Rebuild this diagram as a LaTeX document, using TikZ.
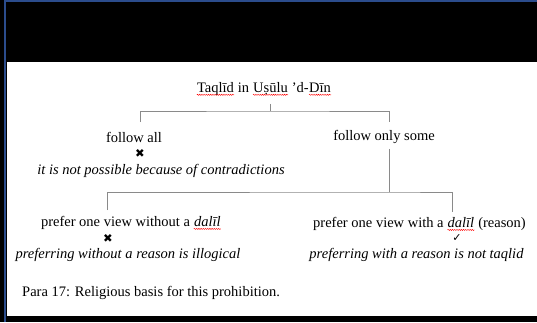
\documentclass[tikz,border=0pt]{standalone}
\usepackage{fontspec}
\setmainfont{Liberation Serif}
\newfontfamily\marksfont{DejaVu Sans}
\usetikzlibrary{positioning, decorations.pathmorphing}

\definecolor{frameblue}{HTML}{2B4C8C}
\definecolor{branchgray}{HTML}{8A8A8A}

% red wavy underline as left by a spell checker
\newcommand{\spelled}[1]{\tikz[baseline=(word.base)]{\node[inner sep=0pt] (word) {#1};
  \draw[red, line width=0.4pt, decorate, decoration={snake, amplitude=0.6pt, segment length=2.2pt}]
    ([yshift=-2.4pt]word.base west) -- ([yshift=-2.4pt]word.base east);}}

\begin{document}
\begin{tikzpicture}[
  x=1pt, y=-1pt,
  every node/.style={inner sep=0pt, font=\fontsize{14.5}{17}\selectfont},
  reason/.style={font=\fontsize{14.5}{17}\selectfont\itshape},
  verdict/.style={font=\marksfont\fontsize{11.5}{12}\selectfont},
  branch/.style={draw=branchgray, line width=0.9pt}
]
\useasboundingbox (0,0) rectangle (537,322);
\fill[black] (0,0) rectangle (537,322);
\fill[white] (7,62) rectangle (537,315.5);
\draw[frameblue, line width=1.6pt] (5,322) -- (5,1) -- (537,1);

\node (title) at (264,89) {\spelled{Taqlīd} in \spelled{Uṣūlu} ’d-\spelled{Dīn}};

\node (all) at (134,137) {follow all};
\node[verdict] (allmark) at (140,153) {✖};
\node[reason] (allwhy) at (161,171) {it is not possible because of contradictions};
\node (some) at (384,137) {follow only some};

\node (without) at (131,223) {prefer one view without a \spelled{\textit{dalīl}}};
\node[verdict] (withoutmark) at (108,238) {✖};
\node[reason] (withoutwhy) at (128,255) {preferring without a reason is illogical};
\node (with) at (419.5,224) {prefer one view with a \spelled{\textit{dalīl}} (reason)};
\node[verdict, font=\marksfont\bfseries\fontsize{11}{12}\selectfont] (withmark) at (457,238) {✓};
\node[reason] (withwhy) at (416.5,255) {preferring with a reason is not taqlid};

\node[anchor=west] (para) at (22,293) {Para 17: Religious basis for this prohibition.};

% tree lines
\coordinate (fork1) at (270.7,111);
\coordinate (allend) at (140,122);
\coordinate (someend) at (389,122);
\coordinate (fork2) at (389,192);
\coordinate (withoutend) at (107,210);
\coordinate (withend) at (452,212);

\draw[branch] ([yshift=-8pt]title.south -| fork1) -- (fork1);
\draw[branch] (allend) |- (fork1) -| (someend);
\draw[branch] ([yshift=-5pt]some.south -| fork2) -- (fork2);
\draw[branch] (withoutend) |- (fork2) -| (withend);
\end{tikzpicture}
\end{document}
